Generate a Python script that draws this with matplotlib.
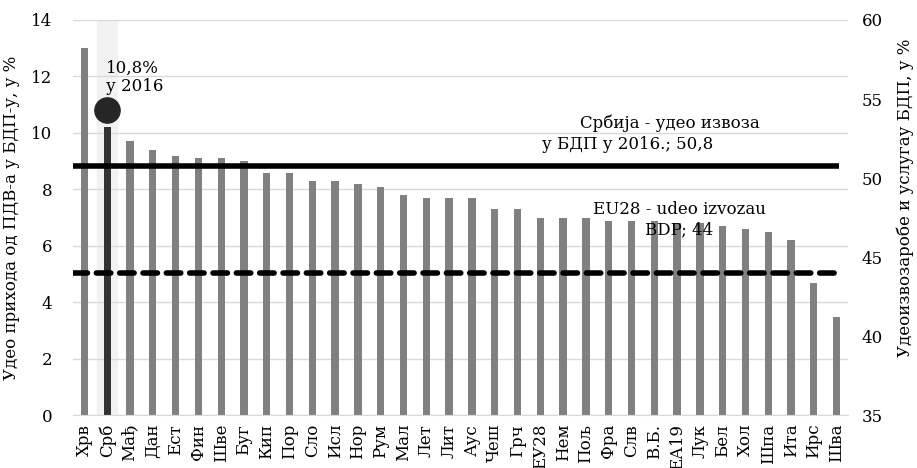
import numpy as np
import matplotlib.pyplot as plt

plt.rcParams['font.family'] = ['DejaVu Serif']

# data
zemlje = ['Хрв', 'Срб', 'Мађ', 'Дан', 'Ест', 'Фин', 'Шве', 'Буг', 'Кип', 'Пор',
          'Сло', 'Исл', 'Нор', 'Рум', 'Мал', 'Лет', 'Лит', 'Аус', 'Чеш', 'Грч',
          'ЕУ28', 'Нем', 'Пољ', 'Фра', 'Слв', 'В.Б.', 'ЕА19', 'Лук', 'Бел', 'Хол',
          'Шпа', 'Ита', 'Ирс', 'Шва']
pdv_udeo = [13.0, 10.2, 9.7, 9.4, 9.2, 9.1, 9.1, 9.0, 8.6, 8.6,
            8.3, 8.3, 8.2, 8.1, 7.8, 7.7, 7.7, 7.7, 7.3, 7.3,
            7.0, 7.0, 7.0, 6.9, 6.9, 6.9, 6.8, 6.8, 6.7, 6.6,
            6.5, 6.2, 4.7, 3.5]
srb_2016 = 10.8
izvoz_srbija = 50.8
izvoz_eu28 = 44.0

fs = 12
fig = plt.figure(figsize=(9.17, 4.68), dpi=100)
ax = fig.add_axes([0.0796, 0.1122, 0.8452, 0.8451])
ax2 = ax.twinx()

x = np.arange(len(zemlje))
boje = ['#333333' if z == 'Срб' else '#808080' for z in zemlje]
i_srb = zemlje.index('Срб')

ax.axvspan(i_srb - 0.45, i_srb + 0.45, color='#f2f2f2', zorder=0)
ax.bar(x, pdv_udeo, width=0.32, color=boje, zorder=2)
ax.scatter([i_srb], [srb_2016], s=330, color='#262626', zorder=4)
ax.text(i_srb - 0.05, srb_2016 + 0.55, '10,8%\nу 2016', fontsize=fs,
        ha='left', va='bottom', linespacing=1.1)

ax.set_xlim(-0.5, len(zemlje) - 0.5)
ax.set_ylim(0, 14)
ax.set_yticks(range(0, 15, 2))
ax.set_xticks(x)
ax.set_xticklabels(zemlje, rotation=90, fontsize=fs)
ax.tick_params(axis='y', length=0, labelsize=fs, pad=15)
ax.tick_params(axis='x', length=0, pad=6)
ax.grid(axis='y', color='#d9d9d9', linewidth=1)
ax.set_axisbelow(True)
for s in ['top', 'left', 'right']:
    ax.spines[s].set_visible(False)
ax.spines['bottom'].set_color('#d9d9d9')
ax.set_ylabel('Удео прихода од ПДВ-а у БДП-у, у %', fontsize=fs, labelpad=8)

ax2.set_ylim(35, 60)
ax2.set_yticks(range(35, 61, 5))
ax2.tick_params(length=0, labelsize=fs, pad=10)
for s in ['top', 'left', 'right', 'bottom']:
    ax2.spines[s].set_visible(False)
ax2.hlines(izvoz_srbija, -0.5, 33.1, color='black', linewidth=4, zorder=5)
ax2.hlines(izvoz_eu28, -0.5, 33.0, color='black', linewidth=4,
           linestyles=(0, (2.6, 1.6)), capstyle='round', zorder=5)
ax2.text(25.7, izvoz_srbija + 2.7, 'Србија - удео извоза', fontsize=fs,
         ha='center', va='center')
ax2.text(23.85, izvoz_srbija + 1.3, 'у БДП у 2016.; 50,8', fontsize=fs,
         ha='center', va='center')
ax2.text(26.1, izvoz_eu28 + 4.0, 'EU28 - udeo izvozau', fontsize=fs,
         ha='center', va='center')
ax2.text(26.1, izvoz_eu28 + 2.75, 'BDP; 44', fontsize=fs,
         ha='center', va='center')
ax2.set_ylabel('Удеоизвозаробе и услугау БДП, у %', fontsize=fs)
ax2.yaxis.set_label_coords(1.062, 0.55)

fig.savefig('out.png', dpi=100)
